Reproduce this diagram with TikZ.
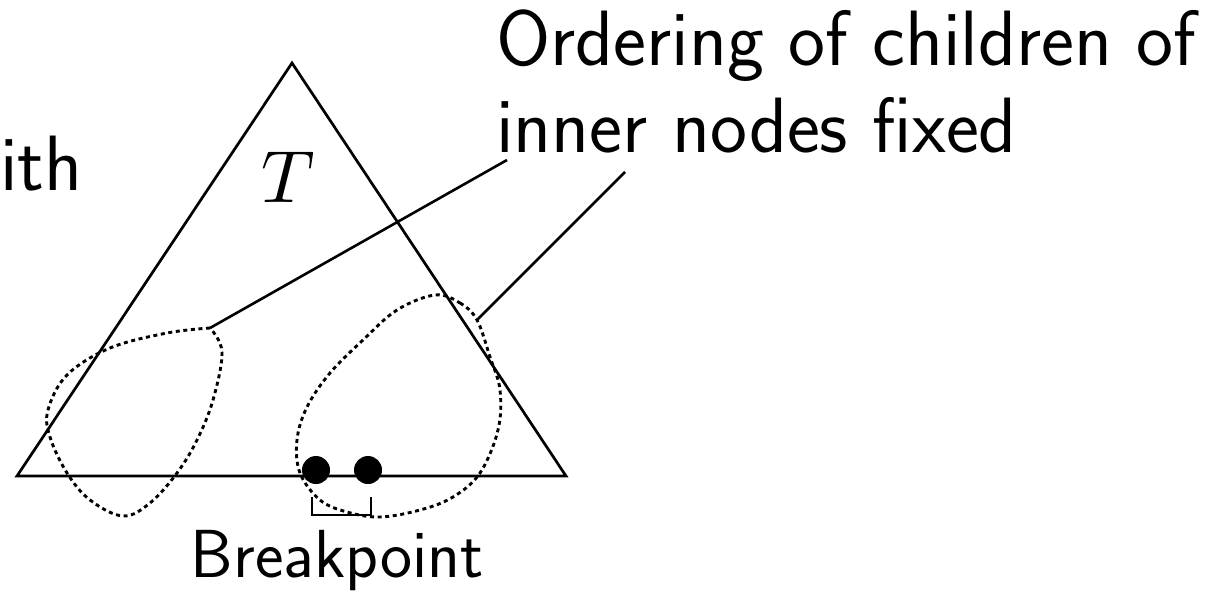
\documentclass[tikz,border=0pt]{standalone}
\DeclareFontShape{OML}{cmm}{m}{it}{<->cmmi10}{}
\begin{document}
\begin{tikzpicture}[x=1pt,y=-1pt,
  edge/.style={line width=2.7pt, line join=miter},
  link/.style={line width=2.6pt},
  blob/.style={line width=2.9pt, dash pattern=on 4pt off 3.6pt},
  dot/.style={circle, fill=black, inner sep=0pt, minimum size=28pt},
  lbl/.style={font=\sffamily\fontsize{78.5}{90}\selectfont, inner sep=0pt, anchor=base west},
  small/.style={font=\sffamily\fontsize{68}{80}\selectfont, inner sep=0pt, anchor=base},
  mathlbl/.style={font=\fontsize{74}{88}\selectfont, inner sep=0pt, anchor=base}]
\useasboundingbox (0,0) rectangle (1218,592);
% triangle
\coordinate (apex) at (292,63);
\coordinate (bl) at (17,476);
\coordinate (br) at (566,476);
\draw[edge] (apex) -- (bl) -- (br) -- cycle;
% labels
\node[mathlbl] (T) at (288,202) {$T$};
\node[lbl] (with) at (0,190) {ith};
\node[lbl] (l1) at (496,65) {Ordering of children of};
\node[lbl] (l2) at (496,152) {inner nodes fixed};
\node[small] (bp) at (337,577) {Breakpoint};
% blobs
\draw[blob] plot[smooth, tension=0.6] coordinates {(210,328) (167,333) (110,348) (67,375) (48,410) (50,437) (67,473) (90,500) (123,516) (150,503) (177,473) (197,440) (213,400) (222,352) (210,328)};
\draw[blob] plot[smooth cycle, tension=0.6] coordinates {(435,295) (460,303) (477,320) (490,357) (500,390) (498,430) (480,473) (453,497) (420,510) (380,517) (347,512) (320,500) (300,473) (297,440) (307,407) (330,373) (363,340) (397,310)};
% connectors
\coordinate (la) at (210,328);
\coordinate (ta) at (507,160);
\coordinate (ra) at (477,320);
\coordinate (tb) at (625,172);
\draw[link] (la) -- (ta);
\draw[link] (ra) -- (tb);
% breakpoint dots
\node[dot] (b1) at (316,470) {};
\node[dot] (b2) at (368,470) {};
\coordinate (k1) at (312,497);
\coordinate (k2) at (312,515);
\coordinate (k3) at (371,515);
\coordinate (k4) at (371,497);
\draw[edge] (k1) -- (k2) -- (k3) -- (k4);
\end{tikzpicture}
\end{document}
